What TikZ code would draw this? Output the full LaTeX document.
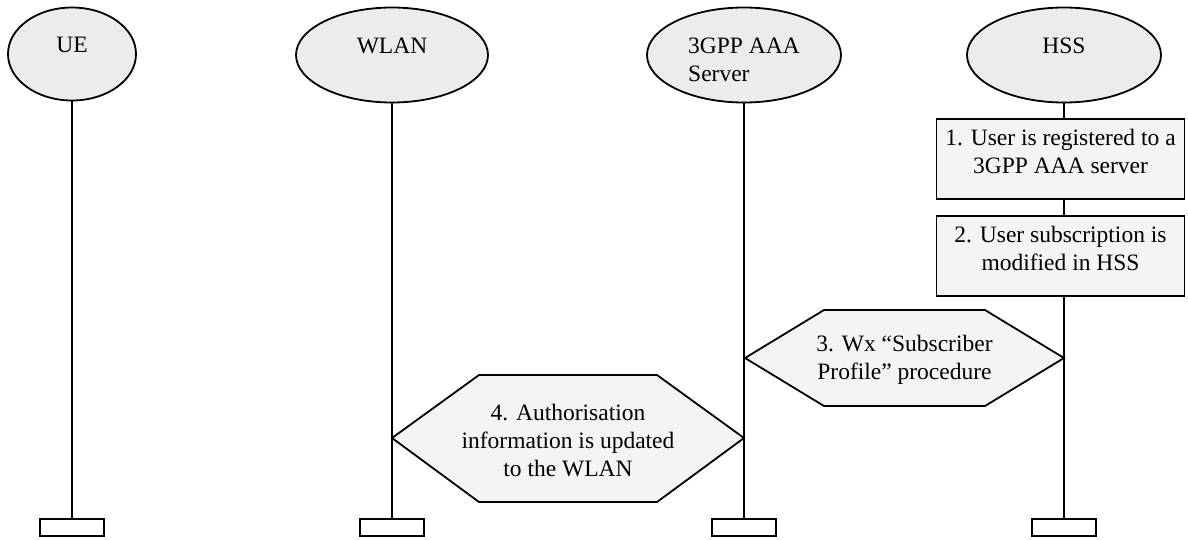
\documentclass[tikz,border=0pt]{standalone}
\usepackage{fontspec}
\setmainfont{Liberation Serif}
\usetikzlibrary{shapes.geometric}

\begin{document}
\begin{tikzpicture}[x=1pt,y=-1pt,line width=1.8pt,
  font=\fontsize{23.5}{28}\selectfont,
  ent/.style={ellipse,draw,fill=gray!15,inner sep=0pt,minimum height=95pt,text depth=18pt},
  endbox/.style={draw,fill=white,inner sep=0pt,minimum width=64pt,minimum height=17pt},
  stepbox/.style={draw,fill=gray!9,inner sep=0pt,minimum width=248pt,minimum height=80pt,align=center,text depth=15.6pt},
  hexa/.style={draw,fill=gray!9,line join=miter},
  hextext/.style={inner sep=0pt,align=center}]
\useasboundingbox (0,0) rectangle (1188,539);
\node (ue) [ent,minimum width=128pt,minimum height=93pt] at (72,54) {UE} ;
\node (wlan) [ent,minimum width=192pt] at (392,55) {WLAN} ;
\node (aaa) [ent,minimum width=194pt,align=left,text depth=0pt,text height=52pt] at (744,55) {3GPP AAA\\Server} ;
\node (hss) [ent,minimum width=194pt] at (1064,55) {HSS} ;
\node (ueb) [endbox] at (72,527.5) {} ;
\node (wlanb) [endbox] at (392,527.5) {} ;
\node (aaab) [endbox] at (744,527.5) {} ;
\node (hssb) [endbox] at (1064,527.5) {} ;
\draw (ue) to (ueb) ;
\draw (wlan) to (wlanb) ;
\draw (aaa) to (aaab) ;
\draw (hss) to (hssb) ;
% steps in the HSS
\node (s1) [stepbox] at (1060.5,159) {1. User is registered to a\\3GPP AAA server} ;
\node (s2) [stepbox] at (1060.5,256) {2. User subscription is\\modified in HSS} ;
% procedures between the lifelines
\draw[hexa] (745,358) -- (824,310) -- (985,310) -- (1064,358) -- (985,406) -- (824,406) -- cycle ;
\node (s3) [hextext] at (904.5,360) {3. Wx “Subscriber\\Profile” procedure} ;
\draw[hexa] (392,438) -- (479,375) -- (657,375) -- (744,438) -- (657,502) -- (479,502) -- cycle ;
\node (s4) [hextext] at (568,441) {4. Authorisation\\information is updated\\to the WLAN} ;
\end{tikzpicture}
\end{document}
